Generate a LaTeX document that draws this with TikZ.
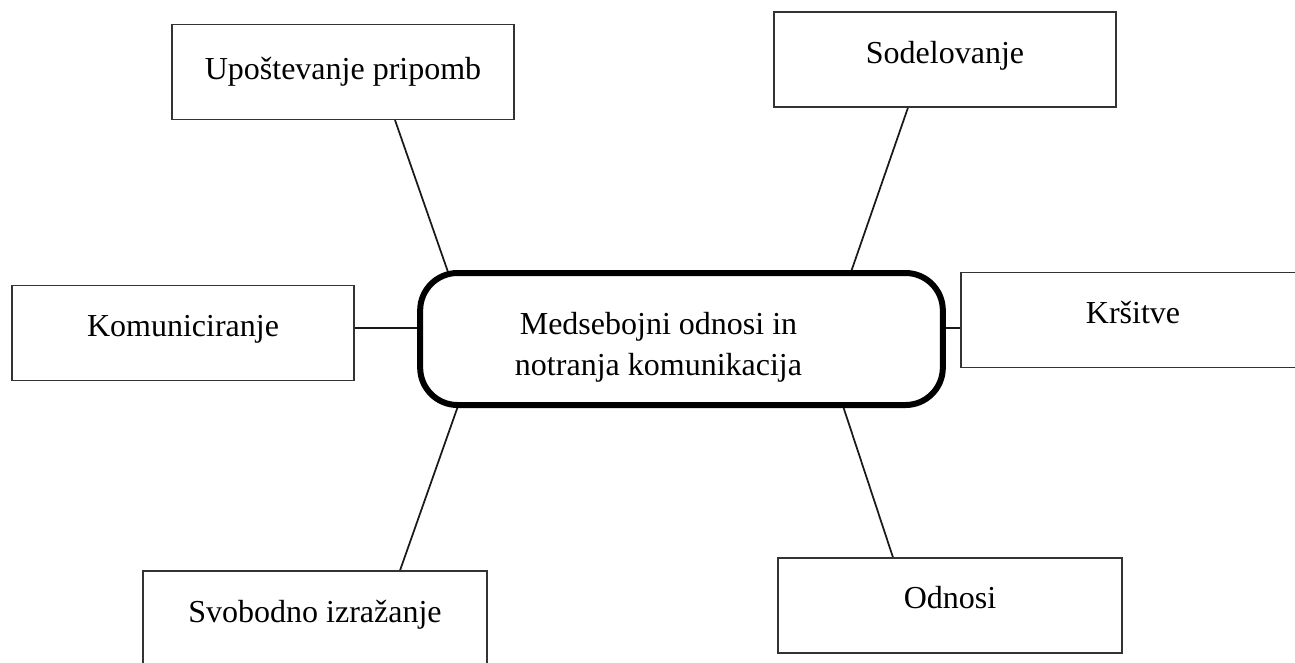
\documentclass[tikz,border=0pt]{standalone}
\usepackage{fontspec}
\setmainfont{Liberation Serif}
\usetikzlibrary{calc,backgrounds}
\begin{document}
\begin{tikzpicture}[x=0.75pt,y=-0.75pt,
  font=\fontsize{24}{30.75}\selectfont,
  sidebox/.style={draw=black!80,line width=1.1pt,fill=white,rectangle,inner sep=0pt,
    minimum width=256.5pt,minimum height=71pt,text height=0.7em,text depth=0.25em},
  hub/.style={draw=black,line width=4.5pt,fill=white,rounded corners=28pt,inner sep=0pt,
    minimum width=392pt,minimum height=99pt},
  link/.style={draw=black!90,line width=1.3pt}]
\useasboundingbox (0,0) rectangle (1295,662);
\clip (0,0) rectangle (1295,662);

\node[hub,label={[align=center,xshift=-17.25pt,yshift=-6.5pt]center:Medsebojni odnosi in\\notranja komunikacija}] (mid) at (681.5,339) {};

\node[sidebox,text height=1.3em] (upo) at (343,72) {Upoštevanje pripomb};
\node[sidebox,text height=0.8em] (sod) at (945,59.5) {Sodelovanje};
\node[sidebox,text height=0.8em] (kom) at (183,333) {Komuniciranje};
\node[sidebox,minimum width=258pt] (krs) at (1133,320) {Kršitve};
\node[sidebox,minimum width=258pt] (odn) at (950,605.5) {Odnosi};
\node[sidebox,minimum width=258pt,text height=0.8em] (svo) at (315,618.5) {Svobodno izražanje};

\coordinate (kc) at ($(kom.east)+(0,-5)$);
\coordinate (rc) at ($(krs.west)+(0,8)$);

\begin{scope}[on background layer]
\draw[link] ($(upo.south)+(52,0)$) -- ($(mid.north)+(-233.5,2)$);
\draw[link] ($(sod.south)+(-37,0)$) -- ($(mid.north)+(169.5,2)$);
\draw[link] (kc) -- (mid.west |- kc);
\draw[link] (rc) -- (mid.east |- rc);
\draw[link] ($(svo.north)+(85,0)$) -- ($(mid.south)+(-223.5,-2)$);
\draw[link] ($(odn.north)+(-57,0)$) -- ($(mid.south)+(161.5,-2)$);
\end{scope}
\end{tikzpicture}
\end{document}
